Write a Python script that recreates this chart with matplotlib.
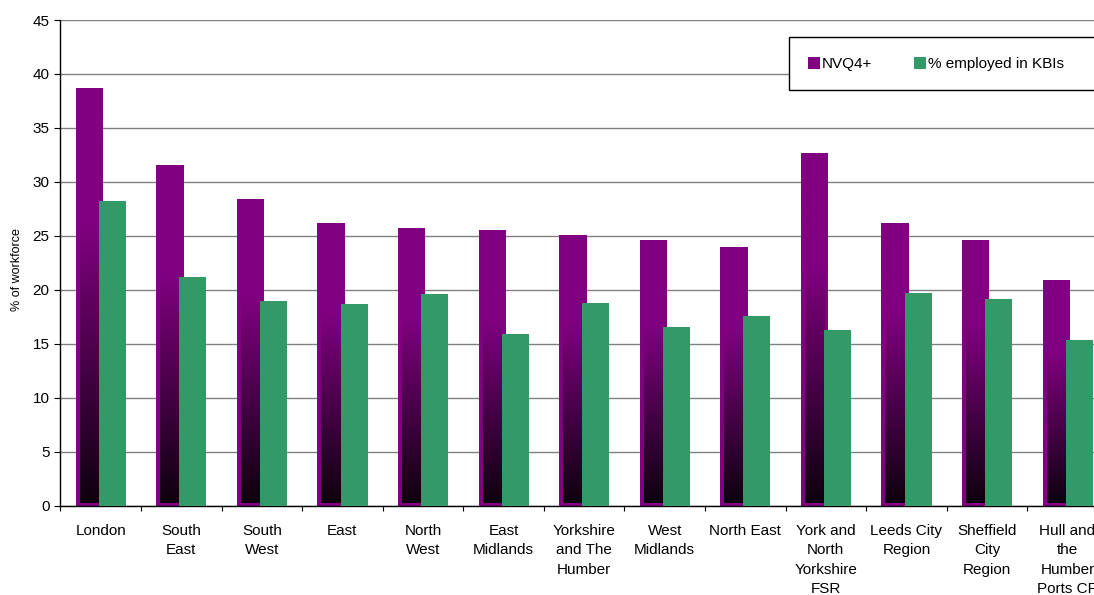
import numpy as np
import matplotlib
matplotlib.use("Agg")
import matplotlib.pyplot as plt
from matplotlib.patches import Rectangle

plt.rcParams['font.family'] = ['Liberation Sans', 'DejaVu Sans']

categories = ["London", "South\nEast", "South\nWest", "East", "North\nWest",
              "East\nMidlands", "Yorkshire\nand The\nHumber", "West\nMidlands",
              "North East", "York and\nNorth\nYorkshire\nFSR", "Leeds City\nRegion",
              "Sheffield\nCity\nRegion", "Hull and\nthe\nHumber\nPorts CR"]
nvq4 = [38.7, 31.6, 28.4, 26.2, 25.7, 25.5, 25.1, 24.6, 24.0, 32.7, 26.2, 24.6, 20.9]
kbi = [28.2, 21.2, 19.0, 18.7, 19.6, 15.9, 18.8, 16.5, 17.6, 16.3, 19.7, 19.1, 15.3]
series_names = ["NVQ4+", "% employed in KBIs"]
yticks = [0, 5, 10, 15, 20, 25, 30, 35, 40, 45]

PURPLE = np.array([128, 0, 128]) / 255
DARK = np.array([14, 0, 14]) / 255
GREEN = "#339966"

W, H = 1094, 595
fig = plt.figure(figsize=(W / 100, H / 100), dpi=100)
ax = fig.add_axes([60.4 / W, (H - 505.5) / H, 1047.4 / W, 485.5 / H])

x = np.arange(len(categories))
bw = 0.34
off_p, off_g = -0.14, 0.145

# purple bars (outer border)
ax.bar(x + off_p, nvq4, width=bw, color=PURPLE, zorder=2, linewidth=0)

# gradient interior
n = 256
for xi, v in zip(x, nvq4):
    t = np.linspace(1, 0, n)  # top -> bottom
    f = np.clip(t / 0.68, 0, 1)[:, None]
    cols = DARK + (PURPLE - DARK) * f
    img = cols[:, None, :]
    x0 = xi + off_p - bw / 2 + 0.05
    x1 = xi + off_p + bw / 2 - 0.05
    ax.imshow(img, extent=[x0, x1, 0.2, v - 0.3], origin='upper',
              aspect='auto', zorder=2.5, interpolation='bilinear')

# green bars
ax.bar(x + off_g, kbi, width=bw - 0.005, color=GREEN, zorder=3, linewidth=0)

ax.set_xlim(-0.5, len(categories) - 0.5)
ax.set_ylim(0, 45)
ax.set_yticks(yticks)
ax.set_yticklabels([str(v) for v in yticks], fontsize=11)
ax.tick_params(axis='y', length=4.3, width=0.8, pad=3.6, color='black')
ax.yaxis.grid(True, color='#808080', linewidth=1.0, zorder=0)
ax.set_axisbelow(True)

ax.set_xticks(np.arange(len(categories) + 1) - 0.5)
ax.set_xticklabels([])
ax.tick_params(axis='x', which='major', length=3.5, width=0.8, color='black')
ax.set_xticks(x, minor=True)
ax.set_xticklabels(categories, minor=True, fontsize=11, linespacing=1.5)
ax.tick_params(axis='x', which='minor', length=0, pad=13)

for s in ['top', 'right']:
    ax.spines[s].set_visible(False)
ax.spines['left'].set_linewidth(1.0)
ax.spines['bottom'].set_linewidth(1.0)

fig.text(17 / W, 1 - 270 / H, "% of workforce", rotation=90, fontsize=9,
         ha='center', va='center')

# legend (manual, clipped at the figure edge like the reference)
fig.add_artist(Rectangle((788.5 / W, 1 - 90 / H), 320 / W, 53 / H,
                         transform=fig.transFigure, facecolor='white',
                         edgecolor='black', linewidth=1.0, zorder=10))
fig.add_artist(Rectangle((808 / W, 1 - 69 / H), 12 / W, 12 / H,
                         transform=fig.transFigure, facecolor=PURPLE,
                         edgecolor='none', zorder=11))
fig.add_artist(Rectangle((914 / W, 1 - 69 / H), 12 / W, 12 / H,
                         transform=fig.transFigure, facecolor=GREEN,
                         edgecolor='none', zorder=11))
fig.text(822 / W, 1 - 64 / H, series_names[0], fontsize=11, va='center',
         ha='left', zorder=12)
fig.text(928 / W, 1 - 64 / H, series_names[1], fontsize=11, va='center',
         ha='left', zorder=12)

fig.savefig("out.png", dpi=100)
